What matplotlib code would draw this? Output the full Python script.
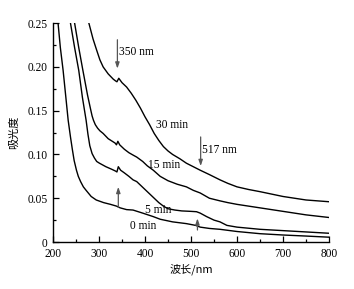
import matplotlib
matplotlib.use("Agg")
import matplotlib.pyplot as plt
from matplotlib.ticker import MultipleLocator

# ---- data ----
wl_0 = [211, 216, 222, 228, 233, 238, 242, 246, 251, 255, 260, 266, 272, 283, 294, 310, 325, 338, 346, 360, 374, 395, 418, 433, 460, 490, 510, 520, 540, 563, 600, 650, 700, 750, 800]
abs_0 = [0.250, 0.222, 0.196, 0.165, 0.139, 0.120, 0.106, 0.093, 0.082, 0.075, 0.069, 0.063, 0.059, 0.052, 0.048, 0.045, 0.043, 0.041, 0.039, 0.037, 0.0365, 0.033, 0.029, 0.026, 0.023, 0.021, 0.019, 0.017, 0.0155, 0.0145, 0.012, 0.0095, 0.008, 0.0068, 0.0055]

wl_5 = [238, 247, 256, 264, 272, 276, 280, 285, 290, 295, 301, 315, 328, 336, 339, 342, 347, 355, 365, 374, 382, 400, 410, 420, 430, 440, 450, 465, 480, 500, 512, 520, 534, 550, 563, 578, 600, 650, 700, 750, 800]
abs_5 = [0.250, 0.222, 0.196, 0.165, 0.139, 0.123, 0.110, 0.101, 0.096, 0.092, 0.090, 0.086, 0.083, 0.081, 0.080, 0.086, 0.082, 0.079, 0.075, 0.071, 0.069, 0.060, 0.055, 0.050, 0.045, 0.041, 0.038, 0.0365, 0.0355, 0.035, 0.0346, 0.033, 0.029, 0.025, 0.023, 0.019, 0.017, 0.0145, 0.013, 0.0115, 0.010]

wl_15 = [247, 256, 265, 275, 282, 285, 288, 292, 297, 302, 309, 320, 335, 338, 341, 345, 355, 365, 375, 382, 395, 405, 418, 433, 450, 470, 490, 505, 520, 540, 563, 580, 600, 650, 700, 750, 800]
abs_15 = [0.250, 0.222, 0.196, 0.168, 0.151, 0.144, 0.139, 0.134, 0.130, 0.127, 0.124, 0.118, 0.113, 0.111, 0.115, 0.111, 0.106, 0.102, 0.099, 0.097, 0.092, 0.087, 0.082, 0.075, 0.070, 0.066, 0.063, 0.059, 0.056, 0.050, 0.047, 0.045, 0.043, 0.039, 0.035, 0.031, 0.028]

wl_30 = [278, 287, 295, 302, 309, 320, 331, 336, 339, 343, 350, 360, 370, 380, 390, 400, 410, 420, 430, 440, 450, 460, 476, 490, 505, 520, 540, 563, 580, 600, 625, 650, 700, 750, 800]
abs_30 = [0.250, 0.232, 0.219, 0.208, 0.200, 0.192, 0.186, 0.184, 0.183, 0.187, 0.182, 0.177, 0.170, 0.162, 0.153, 0.143, 0.134, 0.124, 0.116, 0.109, 0.104, 0.100, 0.095, 0.090, 0.086, 0.082, 0.077, 0.071, 0.067, 0.063, 0.060, 0.0575, 0.052, 0.048, 0.046]

series_labels = ["0 min", "5 min", "15 min", "30 min"]
label_pos = [(367, 0.018), (400, 0.037), (407, 0.088), (424, 0.134)]

x_ticks = [200, 300, 400, 500, 600, 700, 800]
y_ticks = [0, 0.05, 0.10, 0.15, 0.20, 0.25]
y_tick_labels = ["0", "0.05", "0.10", "0.15", "0.20", "0.25"]

# arrows: (x, y_start, y_end, text)
arrows = [(340, 0.231, 0.198, "350 nm"), (521, 0.120, 0.0867, "517 nm"),
          (342, 0.0396, 0.063, ""), (514, 0.0137, 0.027, "")]

serif = ["Liberation Serif", "DejaVu Serif"]
cjk = ["Noto Sans CJK SC", "DejaVu Sans"]

fig = plt.figure(figsize=(3.54, 2.89), dpi=100)
ax = fig.add_axes([0.1497, 0.1626, 0.9294 - 0.1497, 0.920 - 0.1626])

for wl, a in [(wl_0, abs_0), (wl_5, abs_5), (wl_15, abs_15), (wl_30, abs_30)]:
    ax.plot(wl, a, color="black", lw=1.0, solid_joinstyle="round")

for lab, (lx, ly) in zip(series_labels, label_pos):
    ax.text(lx, ly, lab, fontsize=8.3, family=serif, va="center", ha="left")

for (ax_x, y0, y1, txt) in arrows:
    ax.annotate("", xy=(ax_x, y1), xytext=(ax_x, y0),
                arrowprops=dict(arrowstyle="-|>,head_length=0.35,head_width=0.12",
                                color="#555555", lw=0.9, shrinkA=0, shrinkB=0))
    if txt:
        ax.text(ax_x + 3, (y0 + y1) / 2 + 0.002, txt, fontsize=8.3, family=serif,
                va="center", ha="left")

ax.set_xlim(200, 800)
ax.set_ylim(0, 0.25)
ax.set_xticks(x_ticks)
ax.set_yticks(y_ticks)
ax.set_yticklabels(y_tick_labels)
ax.xaxis.set_minor_locator(MultipleLocator(50))
ax.yaxis.set_minor_locator(MultipleLocator(0.025))
ax.tick_params(which="both", direction="in", labelsize=8.3, width=0.9)
ax.tick_params(which="major", length=4, pad=4)
ax.tick_params(which="minor", length=2.5)
for lbl in ax.get_xticklabels() + ax.get_yticklabels():
    lbl.set_family(serif)

ax.spines["top"].set_visible(False)
ax.spines["right"].set_visible(False)
ax.spines["left"].set_linewidth(1.0)
ax.spines["bottom"].set_linewidth(1.0)

ax.set_xlabel("波长/nm", fontsize=8, family=cjk, labelpad=3)
ax.set_ylabel("吸光度", fontsize=8, family=cjk, labelpad=6)

fig.savefig("out.png", dpi=100)
